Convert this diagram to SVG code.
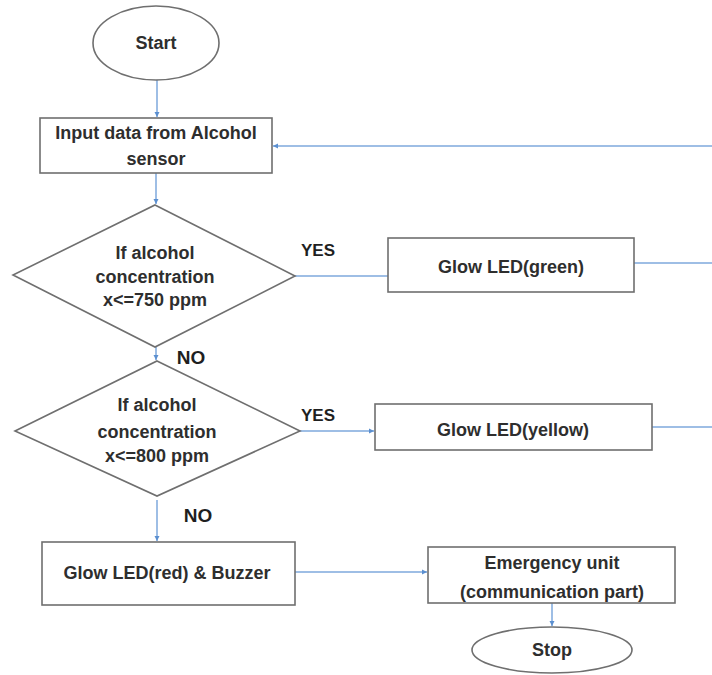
<svg xmlns="http://www.w3.org/2000/svg" width="712" height="675" viewBox="0 0 712 675">
  <style>
    .shape { fill: #ffffff; stroke: #6f6f6f; stroke-width: 1.6; }
    .label { font-family: "Liberation Sans", Arial, sans-serif; font-weight: bold; font-size: 18px; fill: #2e2e2e; text-anchor: middle; }
    .tag { font-family: "Liberation Sans", Arial, sans-serif; font-weight: bold; fill: #1f1f1f; text-anchor: middle; }
    .flow { fill: none; stroke: #7ea9dc; stroke-width: 1.5; }
  </style>
  <defs>
    <marker id="arrow" markerWidth="6" markerHeight="6" refX="5" refY="3" orient="auto" markerUnits="userSpaceOnUse">
      <path d="M0,0.5 L5,3 L0,5.5 Z" fill="#5b8fd0"/>
    </marker>
  </defs>
  <rect width="712" height="675" fill="#ffffff"/>

  <!-- connectors -->
  <g id="connectors">
    <line class="flow" x1="157" y1="80" x2="157" y2="117" marker-end="url(#arrow)"/>
    <line class="flow" x1="712" y1="146" x2="273" y2="146" marker-end="url(#arrow)"/>
    <line class="flow" x1="156" y1="173" x2="156" y2="204" marker-end="url(#arrow)"/>
    <line class="flow" x1="295" y1="276" x2="388" y2="276"/>
    <line class="flow" x1="634" y1="263" x2="712" y2="263"/>
    <line class="flow" x1="156" y1="347" x2="156" y2="360" marker-end="url(#arrow)"/>
    <line class="flow" x1="300" y1="431" x2="374" y2="431" marker-end="url(#arrow)"/>
    <line class="flow" x1="652" y1="427" x2="712" y2="427"/>
    <line class="flow" x1="157" y1="500" x2="157" y2="541" marker-end="url(#arrow)"/>
    <line class="flow" x1="295" y1="572" x2="427" y2="572" marker-end="url(#arrow)"/>
    <line class="flow" x1="552" y1="603" x2="552" y2="626" marker-end="url(#arrow)"/>
  </g>

  <!-- branch labels -->
  <g id="branch-labels">
    <text class="tag" x="318" y="256" font-size="17">YES</text>
    <text class="tag" x="191" y="364" font-size="19">NO</text>
    <text class="tag" x="318" y="421" font-size="17">YES</text>
    <text class="tag" x="198" y="522" font-size="19">NO</text>
  </g>

  <g id="start">
    <ellipse class="shape" cx="156" cy="43" rx="63" ry="37"/>
    <text class="label" x="156" y="49">Start</text>
  </g>

  <g id="input">
    <rect class="shape" x="40" y="118" width="232" height="55"/>
    <text class="label" x="156" y="139">Input data from Alcohol</text>
    <text class="label" x="156" y="165">sensor</text>
  </g>

  <g id="check-750">
    <polygon class="shape" points="155,205 295,276 155,347 13,275"/>
    <text class="label" x="155" y="259">If alcohol</text>
    <text class="label" x="155" y="283">concentration</text>
    <text class="label" x="155" y="306">x&lt;=750 ppm</text>
  </g>

  <g id="led-green">
    <rect class="shape" x="388" y="238" width="246" height="54"/>
    <text class="label" x="511" y="273">Glow LED(green)</text>
  </g>

  <g id="check-800">
    <polygon class="shape" points="157,361 300,431 157,496 15,431"/>
    <text class="label" x="157" y="411">If alcohol</text>
    <text class="label" x="157" y="438">concentration</text>
    <text class="label" x="157" y="462">x&lt;=800 ppm</text>
  </g>

  <g id="led-yellow">
    <rect class="shape" x="375" y="404" width="277" height="46"/>
    <text class="label" x="513" y="436">Glow LED(yellow)</text>
  </g>

  <g id="led-red-buzzer">
    <rect class="shape" x="42" y="542" width="253" height="63"/>
    <text class="label" x="167" y="579">Glow LED(red) &amp; Buzzer</text>
  </g>

  <g id="emergency">
    <rect class="shape" x="428" y="547" width="247" height="56"/>
    <text class="label" x="552" y="569">Emergency unit</text>
    <text class="label" x="552" y="598">(communication part)</text>
  </g>

  <g id="stop">
    <ellipse class="shape" cx="552" cy="650" rx="80" ry="23"/>
    <text class="label" x="552" y="656">Stop</text>
  </g>
</svg>
